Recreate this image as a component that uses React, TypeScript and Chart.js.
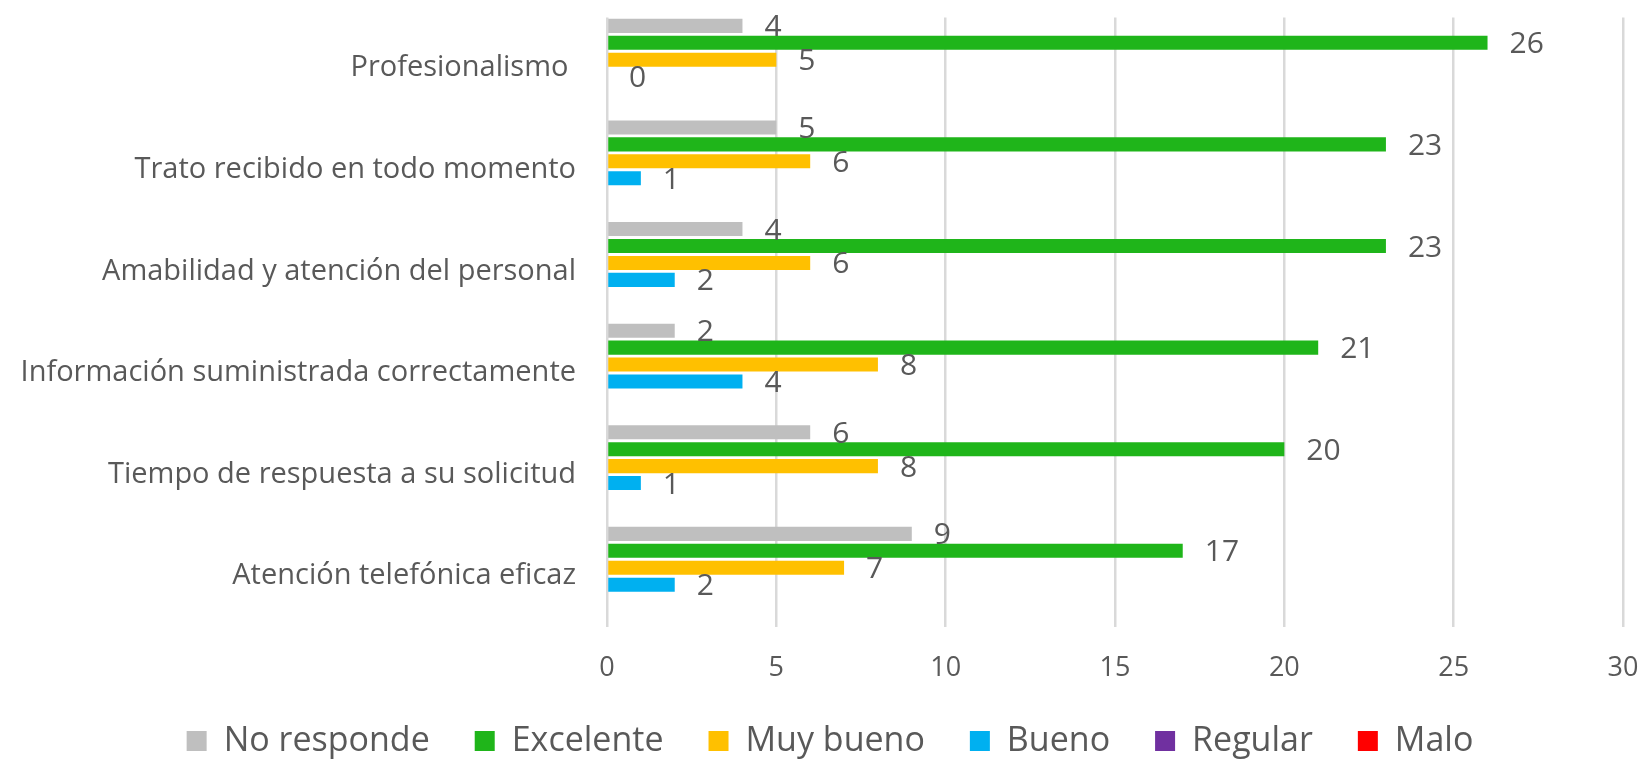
import React, { useEffect, useRef } from "react";
import { Chart, registerables } from "chart.js";

Chart.register(...registerables);

const categories = [
  "Profesionalismo ",
  "Trato recibido en todo momento",
  "Amabilidad y atención del personal",
  "Información suministrada correctamente",
  "Tiempo de respuesta a su solicitud",
  "Atención telefónica eficaz",
];
const seriesNames = ["No responde", "Excelente", "Muy bueno", "Bueno", "Regular", "Malo"];
const noResponde = [4, 5, 4, 2, 6, 9];
const excelente = [26, 23, 23, 21, 20, 17];
const muyBueno = [5, 6, 6, 8, 8, 7];
const bueno = [0, 1, 2, 4, 1, 2];
const regular = [0, 0, 0, 0, 0, 0];
const malo = [0, 0, 0, 0, 0, 0];
const xMin = 0;
const xMax = 30;
const xStep = 5;

const colors = ["#BFBFBF", "#1FB51A", "#FFC000", "#00B0F0", "#7030A0", "#FF0000"];
const labelled = [true, true, true, true, false, false];
const TEXT = "#595959";
const FONT = "'Open Sans'";
const LEGEND_FONT = 34;
const LEGEND_PAD = 45;

const valueLabels = {
  id: "valueLabels",
  afterDatasetsDraw(chart: any) {
    const ctx = chart.ctx;
    ctx.save();
    ctx.font = `30px ${FONT}`;
    ctx.fillStyle = TEXT;
    ctx.textAlign = "left";
    ctx.textBaseline = "middle";
    chart.data.datasets.forEach((ds: any, i: number) => {
      if (!labelled[i]) return;
      const meta = chart.getDatasetMeta(i);
      meta.data.forEach((bar: any, j: number) => {
        ctx.fillText(String(ds.data[j]), bar.x + 22, bar.y + 2);
      });
    });
    ctx.restore();
  },
};

const legendPlacer = {
  id: "legendPlacer",
  afterLayout(chart: any) {
    const lg = chart.legend;
    if (!lg) return;
    const shift = 830 - (lg.left + lg.right) / 2;
    lg.left += shift;
    lg.right += shift;
    lg.top = 741 - LEGEND_PAD - LEGEND_FONT / 2;
  },
};

export default function App() {
  const ref = useRef<HTMLCanvasElement | null>(null);
  useEffect(() => {
    document.body.style.margin = "0";
    if (!ref.current) return;
    const data = [noResponde, excelente, muyBueno, bueno, regular, malo];
    const chart = new Chart(ref.current, {
      type: "bar",
      data: {
        labels: categories,
        datasets: seriesNames.map((name, i) => ({
          label: name,
          data: data[i],
          backgroundColor: colors[i],
          borderWidth: 0,
          barPercentage: 0.83,
          categoryPercentage: 1,
        })),
      },
      options: {
        indexAxis: "y",
        responsive: false,
        animation: false,
        layout: { padding: { left: 0, right: 24, top: 16, bottom: 0 } },
        plugins: {
          tooltip: { enabled: false },
          legend: {
            position: "bottom",
            align: "center",
            maxHeight: 50,
            labels: {
              font: { family: FONT, size: LEGEND_FONT },
              color: TEXT,
              boxWidth: 20,
              boxHeight: 20,
              padding: LEGEND_PAD,
            },
          },
        },
        scales: {
          x: {
            type: "linear",
            min: xMin,
            max: xMax,
            ticks: {
              stepSize: xStep,
              font: { family: FONT, size: 27 },
              color: TEXT,
              padding: 0,
            },
            grid: {
              color: "#D9D9D9",
              lineWidth: 2.5,
              drawTicks: true,
              tickLength: 25,
              tickColor: "rgba(0,0,0,0)",
            },
            border: { display: false },
            afterFit(scale: any) {
              scale.height = 83;
            },
          },
          y: {
            type: "category",
            ticks: {
              font: { family: FONT, size: 29 },
              color: TEXT,
              padding: 0,
              autoSkip: false,
            },
            grid: {
              color: "rgba(0,0,0,0)",
              drawOnChartArea: false,
              drawTicks: true,
              tickLength: 31,
              tickColor: "rgba(0,0,0,0)",
            },
            border: { display: false },
            afterFit(scale: any) {
              scale.width = 607;
            },
          },
        },
      },
      plugins: [valueLabels, legendPlacer],
    });
    return () => chart.destroy();
  }, []);
  return (
    <div style={{ width: 1647, height: 760 }}>
      <canvas ref={ref} width={1647} height={760} />
    </div>
  );
}
